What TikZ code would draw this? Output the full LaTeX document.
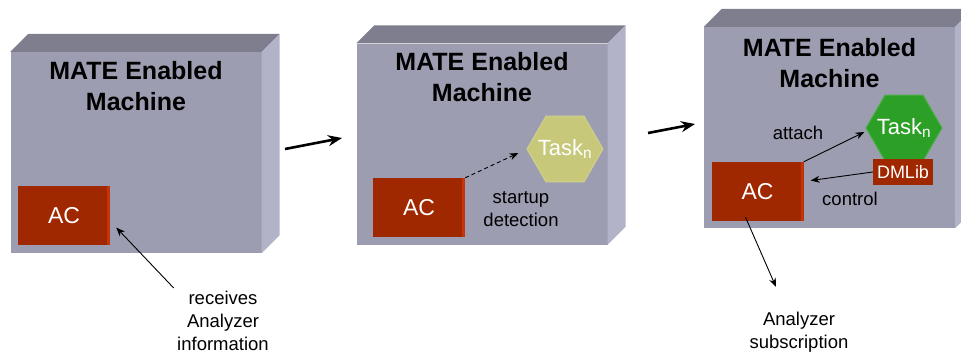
\documentclass[tikz,border=0pt]{standalone}
\usepackage{fontspec}
\setmainfont{Liberation Sans}
\usetikzlibrary{arrows}
\usetikzlibrary{arrows.meta}
\usetikzlibrary{shapes.geometric}

\definecolor{frontgray}{RGB}{156,157,177}
\definecolor{topgray}{RGB}{126,126,142}
\definecolor{sidegray}{RGB}{178,179,200}
\definecolor{acred}{RGB}{160,40,0}
\definecolor{acside}{RGB}{200,52,8}
\definecolor{taskyellow}{RGB}{200,200,122}
\definecolor{taskgreen}{RGB}{44,160,38}

\begin{document}
\begin{tikzpicture}[x=1pt, y=-1pt,
    machine/.style={fill=frontgray, minimum width=251pt, minimum height=201pt, inner sep=0pt},
    title/.style={anchor=north, align=center, font=\bfseries\fontsize{25}{31}\selectfont},
    acbox/.style={fill=acred, text=white, minimum width=92pt, minimum height=59pt, inner sep=0pt,
        font=\fontsize{23}{25}\selectfont,
        path picture={\fill[acside] (path picture bounding box.north east) rectangle ([xshift=-3pt]path picture bounding box.south east);}},
    task/.style={regular polygon, regular polygon sides=6, minimum size=76pt, inner sep=0pt,
        label={[text=white, font=\fontsize{22}{24}\selectfont]center:Task$_{\mathrm{n}}$}},
    lbl/.style={align=center, font=\fontsize{18.5}{23}\selectfont},
    conn/.style={-{Stealth[length=9pt, width=7pt]}, line width=0.9pt},
    stepArrow/.style={-{Stealth[length=14pt, width=11pt]}, line width=2.6pt}]

    \useasboundingbox (0,0) rectangle (961,354);

    % the three machines: front face, then top and right side
    \node [machine] (m1) at (136,152.5) {};
    \node [machine] (m2) at (482,144) {};
    \node [machine] (m3) at (829.5,127.5) {};
    \foreach \m in {m1, m2, m3} {
        \fill [topgray] (\m.north west) -- ++(18,-18) -- ([xshift=18pt,yshift=18pt]\m.north east) -- (\m.north east) -- cycle;
        \fill [sidegray] (\m.north east) -- ++(18,-18) -- ([xshift=18pt,yshift=18pt]\m.south east) -- (\m.south east) -- cycle;
    }
    \node [title] (t1) at ([yshift=-6pt]m1.north) {MATE Enabled\\Machine};
    \node [title] (t2) at ([yshift=-6pt]m2.north) {MATE Enabled\\Machine};
    \node [title] (t3) at ([yshift=-8pt]m3.north) {MATE Enabled\\Machine};

    % step 1: AC waits for the analyzer
    \node [acbox] (ac1) at (64,215.5) {AC};
    \node [lbl, anchor=north] (rcv) at (223,288) {receives\\Analyzer\\information};
    \draw [conn] (rcv.north west) -- ([xshift=6pt,yshift=-12pt]ac1.east);

    \coordinate (go1) at (285,149);
    \coordinate (go2) at (342,138);
    \draw [stepArrow] (go1) -- (go2);

    % step 2: task starts
    \node [acbox] (ac2) at (419,207.5) {AC};
    \node [task, fill=taskyellow, draw=taskyellow!85!white, line width=1pt] (task2) at (565,149) {};
    \draw [conn, dash pattern=on 4pt off 3pt] (ac2.north east) -- ([xshift=-8pt,yshift=-4pt]task2.west);
    \node [lbl] (start) at (521,209) {startup\\detection};

    \coordinate (go3) at (648,133);
    \coordinate (go4) at (695,124);
    \draw [stepArrow] (go3) -- (go4);

    % step 3: attach and control
    \node [acbox] (ac3) at (757.5,191.5) {AC};
    \node [task, fill=taskgreen, draw=taskgreen!85!white, line width=1pt] (task3) at (904,128) {};
    \node [fill=acred, text=white, minimum width=60pt, minimum height=26pt, inner sep=0pt,
        font=\fontsize{18}{20}\selectfont] (dml) at (903,172) {DMLib};
    \draw [conn] (ac3.north east) -- ([xshift=-1pt,yshift=-4pt]task3.west);
    \draw [conn] (dml.west) -- ([xshift=7pt,yshift=11pt]ac3.east);
    \node [lbl] (att) at (798,133) {attach};
    \node [lbl] (ctl) at (850,199) {control};

    \node [lbl] (sub) at (799,332) {Analyzer\\subscription};
    \coordinate (subend) at (776,287);
    \draw [conn] ([xshift=-12pt,yshift=4pt]ac3.south) -- (subend);
\end{tikzpicture}
\end{document}
